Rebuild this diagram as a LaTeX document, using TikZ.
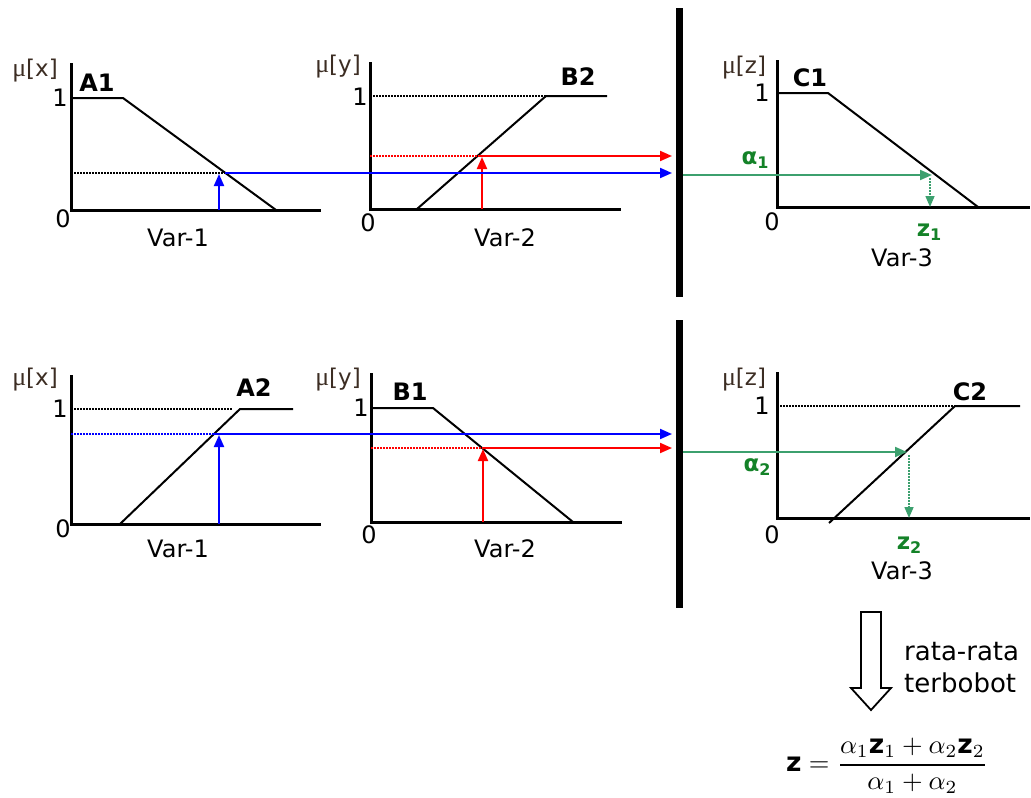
\documentclass[tikz,border=0pt]{standalone}
\usepackage{amsmath}
\usepackage{graphicx}
\usepackage{fontspec}
\setmainfont{DejaVu Sans}
\newfontfamily\mufont{Liberation Serif}
\usetikzlibrary{arrows.meta}
\definecolor{gline}{RGB}{60,160,110}
\definecolor{gtext}{RGB}{20,130,40}
\definecolor{mucol}{RGB}{60,45,35}
\newcommand{\mulab}[1]{{\mufont\fontsize{26}{26}\selectfont μ}[#1]}
\newcommand{\subl}[2]{#1\raisebox{-0.35ex}{\fontsize{16}{16}\selectfont #2}}
\begin{document}
\begin{tikzpicture}[x=1pt,y=-1pt,
 axis/.style={line width=3pt},
 mf/.style={line width=2pt},
 guide/.style={dash pattern=on 1.8pt off 1.2pt, line width=1.5pt},
 lbl/.style={font=\fontsize{24}{26}\selectfont, inner sep=0},
 blbl/.style={font=\fontsize{24}{26}\selectfont\bfseries, inner sep=0},
 mulbl/.style={font=\fontsize{23}{26}\selectfont, inner sep=0, text=mucol},
 glbl/.style={font=\fontsize{23}{26}\selectfont\bfseries, inner sep=0, text=gtext},
 tip/.style={-{Triangle[length=12pt,width=10pt]}},
 bar/.style={line width=7pt},
 bl/.style={blue, line width=2pt},
 rl/.style={red, line width=2pt},
 gl/.style={gline, line width=2pt},
]
\useasboundingbox (0,0) rectangle (1031,798);

% ---------- Panel A1 ----------
\coordinate (A1top) at (71,63); \coordinate (A1o) at (71,210); \coordinate (A1end) at (321,210);
\draw[axis] (A1top) -- (A1o) -- (A1end);
\coordinate (A1p) at (71,98); \coordinate (A1k) at (123,98); \coordinate (A1z) at (276,210);
\draw[mf] (A1p) -- (A1k) -- (A1z);
\coordinate (A1l) at (71,173); \coordinate (A1c) at (225,173);
\coordinate (A1x) at (219,210); \coordinate (A1y) at (219,174);
\draw[guide] (A1l) -- (A1c);
\draw[bl,tip] (A1x) -- (A1y);
\node[mulbl] (muA1) at (35,71) {\mulab{x}};
\node[blbl] (labA1) at (97,83) {A1};
\node[lbl] (oneA1) at (60,98) {1};
\node[lbl] (zeroA1) at (63,219) {0};
\node[lbl] (varA1) at (178,238) {Var-1};

% ---------- Panel B2 ----------
\coordinate (B2top) at (370,62); \coordinate (B2o) at (370,209); \coordinate (B2end) at (621,209);
\draw[axis] (B2top) -- (B2o) -- (B2end);
\coordinate (B2s) at (417,209); \coordinate (B2k) at (546,96); \coordinate (B2e) at (607,96);
\draw[mf] (B2s) -- (B2k) -- (B2e);
\coordinate (B2one) at (370,96);
\draw[guide] (B2one) -- (B2k);
\coordinate (B2l) at (370,156); \coordinate (B2c) at (480,156);
\coordinate (B2x) at (482,209); \coordinate (B2y) at (482,157);
\draw[guide, red] (B2l) -- (B2c);
\draw[rl,tip] (B2x) -- (B2y);
\node[mulbl] (muB2) at (338,67) {\mulab{y}};
\node[blbl] (labB2) at (578,77) {B2};
\node[lbl] (oneB2) at (360,97) {1};
\node[lbl] (zeroB2) at (368,223) {0};
\node[lbl] (varB2) at (505,238) {Var-2};

% bar 1
\coordinate (bar1t) at (679,8); \coordinate (bar1b) at (679,297);
\draw[bar] (bar1t) -- (bar1b);
\coordinate (r1end) at (672,156); \coordinate (b1end) at (672,173);
\draw[rl,tip] (B2c) -- (r1end);
\draw[bl,tip] (A1c) -- (b1end);

% ---------- Panel C1 ----------
\coordinate (C1top) at (777,60); \coordinate (C1o) at (777,207); \coordinate (C1end) at (1030,207);
\draw[axis] (C1top) -- (C1o) -- (C1end);
\coordinate (C1p) at (777,93); \coordinate (C1k) at (828,93); \coordinate (C1z) at (978,207);
\draw[mf] (C1p) -- (C1k) -- (C1z);
\coordinate (g1s) at (683,175); \coordinate (g1e) at (932,175);
\draw[gl,tip] (g1s) -- (g1e);
\coordinate (z1t) at (930,178); \coordinate (z1b) at (930,207);
\draw[gline, line width=1.5pt, dash pattern=on 1.8pt off 1.2pt, -{Triangle[length=11pt,width=9pt]}] (z1t) -- (z1b);
\node[mulbl] (muC1) at (744,68) {\mulab{z}};
\node[blbl] (labC1) at (810,78) {C1};
\node[lbl] (oneC1) at (762,93) {1};
\node[lbl] (zeroC1) at (772,222) {0};
\node[glbl] (al1) at (755,160) {\subl{α}{1}};
\node[glbl] (zz1) at (929,232) {\subl{z}{1}};
\node[lbl] (varC1) at (902,258) {Var-3};

% ---------- Panel A2 ----------
\coordinate (A2top) at (71,375); \coordinate (A2o) at (71,524); \coordinate (A2end) at (321,524);
\draw[axis] (A2top) -- (A2o) -- (A2end);
\coordinate (A2s) at (120,524); \coordinate (A2k) at (240,409); \coordinate (A2e) at (293,409);
\draw[mf] (A2s) -- (A2k) -- (A2e);
\coordinate (A2one) at (71,409); \coordinate (A2onee) at (232,409);
\draw[guide] (A2one) -- (A2onee);
\coordinate (A2l) at (71,434); \coordinate (A2c) at (214,434);
\coordinate (A2x) at (219,524); \coordinate (A2y) at (219,435);
\draw[guide, blue] (A2l) -- (A2c);
\draw[bl,tip] (A2x) -- (A2y);
\node[mulbl] (muA2) at (35,380) {\mulab{x}};
\node[blbl] (labA2) at (254,388) {A2};
\node[lbl] (oneA2) at (60,409) {1};
\node[lbl] (zeroA2) at (63,529) {0};
\node[lbl] (varA2) at (178,549) {Var-1};

% ---------- Panel B1 ----------
\coordinate (B1top) at (371,373); \coordinate (B1o) at (371,522); \coordinate (B1end) at (622,522);
\draw[axis] (B1top) -- (B1o) -- (B1end);
\coordinate (B1p) at (371,408); \coordinate (B1k) at (433,408); \coordinate (B1z) at (573,522);
\draw[mf] (B1p) -- (B1k) -- (B1z);
\coordinate (B1l) at (371,448); \coordinate (B1c) at (482,448);
\coordinate (B1x) at (483,522); \coordinate (B1y) at (483,449);
\draw[guide, red] (B1l) -- (B1c);
\draw[rl,tip] (B1x) -- (B1y);
\node[mulbl] (muB1) at (338,380) {\mulab{y}};
\node[blbl] (labB1) at (410,392) {B1};
\node[lbl] (oneB1) at (361,408) {1};
\node[lbl] (zeroB1) at (369,535) {0};
\node[lbl] (varB1) at (505,549) {Var-2};

% bar 2
\coordinate (bar2t) at (679,320); \coordinate (bar2b) at (679,608);
\draw[bar] (bar2t) -- (bar2b);
\coordinate (b2end) at (672,434); \coordinate (r2end) at (672,448);
\draw[bl,tip] (A2c) -- (b2end);
\draw[rl,tip] (B1c) -- (r2end);

% ---------- Panel C2 ----------
\coordinate (C2top) at (777,372); \coordinate (C2o) at (777,518); \coordinate (C2end) at (1030,518);
\draw[axis] (C2top) -- (C2o) -- (C2end);
\coordinate (C2s) at (829,523); \coordinate (C2k) at (955,406); \coordinate (C2e) at (1020,406);
\draw[mf] (C2s) -- (C2k) -- (C2e);
\coordinate (C2one) at (777,406);
\draw[guide] (C2one) -- (C2k);
\coordinate (g2s) at (683,452); \coordinate (g2e) at (907,452);
\draw[gl,tip] (g2s) -- (g2e);
\coordinate (z2t) at (909,455); \coordinate (z2b) at (909,518);
\draw[gline, line width=1.5pt, dash pattern=on 1.8pt off 1.2pt, -{Triangle[length=11pt,width=9pt]}] (z2t) -- (z2b);
\node[mulbl] (muC2) at (744,380) {\mulab{z}};
\node[blbl] (labC2) at (970,392) {C2};
\node[lbl] (oneC2) at (762,406) {1};
\node[lbl] (zeroC2) at (772,535) {0};
\node[glbl] (al2) at (757,467) {\subl{α}{2}};
\node[glbl] (zz2) at (909,545) {\subl{z}{2}};
\node[lbl] (varC2) at (902,571) {Var-3};

% ---------- Result ----------
\draw[line width=1.8pt, fill=white] (861,612) -- (881,612) -- (881,688) -- (891,688) -- (871,710) -- (851,688) -- (861,688) -- cycle;
\node[lbl, anchor=west] (rr) at (904,652) {\fontsize{26}{28}\selectfont rata-rata};
\node[lbl, anchor=west] (tb) at (904,683) {\fontsize{26}{28}\selectfont terbobot};
\node[inner sep=0] (formula) at (887,766)
 {\fontsize{10}{12}\selectfont\scalebox{2.65}{$\text{\bfseries z} = \dfrac{\alpha_1\text{\bfseries z}_1+\alpha_2\text{\bfseries z}_2}{\alpha_1+\alpha_2}$}};
\end{tikzpicture}
\end{document}
